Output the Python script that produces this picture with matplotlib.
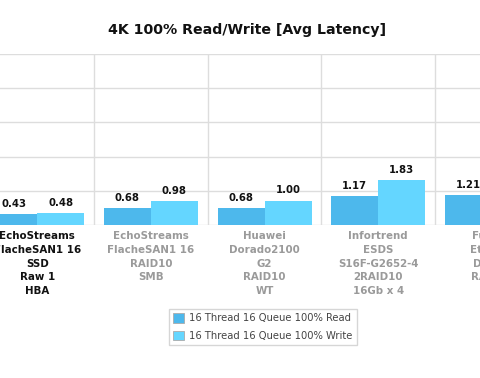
import matplotlib.pyplot as plt
from matplotlib.patches import Patch

# Data
systems = [
    "EchoStreams\nFlacheSAN1 16\nSSD\nRaw 1\nHBA",
    "EchoStreams\nFlacheSAN1 16\nRAID10\nSMB",
    "Huawei\nDorado2100\nG2\nRAID10\nWT",
    "Infortrend\nESDS\nS16F-G2652-4\n2RAID10\n16Gb x 4",
    "Fujitsu\nEternus\nDX200\nRAID10",
]
read_latency = [0.43, 0.68, 0.68, 1.17, 1.21]
write_latency = [0.48, 0.98, 1.00, 1.83, 2.05]
series_names = ["16 Thread 16 Queue 100% Read", "16 Thread 16 Queue 100% Write"]

read_color = "#4db8ec"
write_color = "#64d6ff"
grid_color = "#dddddd"

W, H = 480, 378
fig = plt.figure(figsize=(W / 100, H / 100), dpi=100)

# axes runs past the figure edges, as in the cropped reference
left_px, right_px = -19.7, 548.8
top_px, base_px = 54, 225
ax = fig.add_axes([left_px / W, 1 - base_px / H,
                   (right_px - left_px) / W, (base_px - top_px) / H])

x = list(range(len(systems)))
bw = 0.413
ax.bar([i - bw / 2 for i in x], read_latency, bw, color=read_color,
       edgecolor="none", zorder=3)
ax.bar([i + bw / 2 for i in x], write_latency, bw, color=write_color,
       edgecolor="none", zorder=3)

for i in x:
    ax.text(i - bw / 2, read_latency[i] + 0.22, f"{read_latency[i]:.2f}",
            ha="center", va="bottom", fontsize=7.3, fontweight="bold",
            color="#111111", zorder=4)
    ax.text(i + bw / 2, write_latency[i] + 0.22, f"{write_latency[i]:.2f}",
            ha="center", va="bottom", fontsize=7.3, fontweight="bold",
            color="#111111", zorder=4)

ax.set_xlim(-0.5, len(systems) - 0.5)
ax.set_ylim(0, 7)
ax.set_yticks([0, 1.4, 2.8, 4.2, 5.6, 7.0])
ax.set_yticklabels([])
ax.tick_params(axis="y", length=0)

# vertical separators between categories
for b in range(len(systems) + 1):
    ax.axvline(b - 0.5, color=grid_color, lw=1, zorder=1)
ax.yaxis.grid(True, color=grid_color, lw=1, zorder=1)
for s in ax.spines.values():
    s.set_visible(False)

ax.set_xticks(x)
ax.set_xticklabels(systems, fontsize=7.4, fontweight="bold",
                   linespacing=1.45, va="top")
ax.tick_params(axis="x", length=0, pad=4.6)
for i, lab in enumerate(ax.get_xticklabels()):
    lab.set_color("#111111" if i == 0 else "#9a9a9a")

fig.text(247 / W, 1 - 30 / H, "4K 100% Read/Write [Avg Latency]",
         ha="center", va="center", fontsize=10.2, fontweight="bold",
         color="#111111")

handles = [Patch(facecolor=read_color, edgecolor="#aaaaaa", lw=0.6),
           Patch(facecolor=write_color, edgecolor="#aaaaaa", lw=0.6)]
leg = fig.legend(handles, series_names, loc="upper center",
                 bbox_to_anchor=(263 / W, 1 - 304 / H), fontsize=7.2,
                 frameon=True, fancybox=False, edgecolor="#cccccc",
                 handlelength=1.1, handleheight=1.1, handletextpad=0.5,
                 labelspacing=0.75, borderpad=0.4)
for t in leg.get_texts():
    t.set_color("#444444")

fig.savefig("out.png", dpi=100)
